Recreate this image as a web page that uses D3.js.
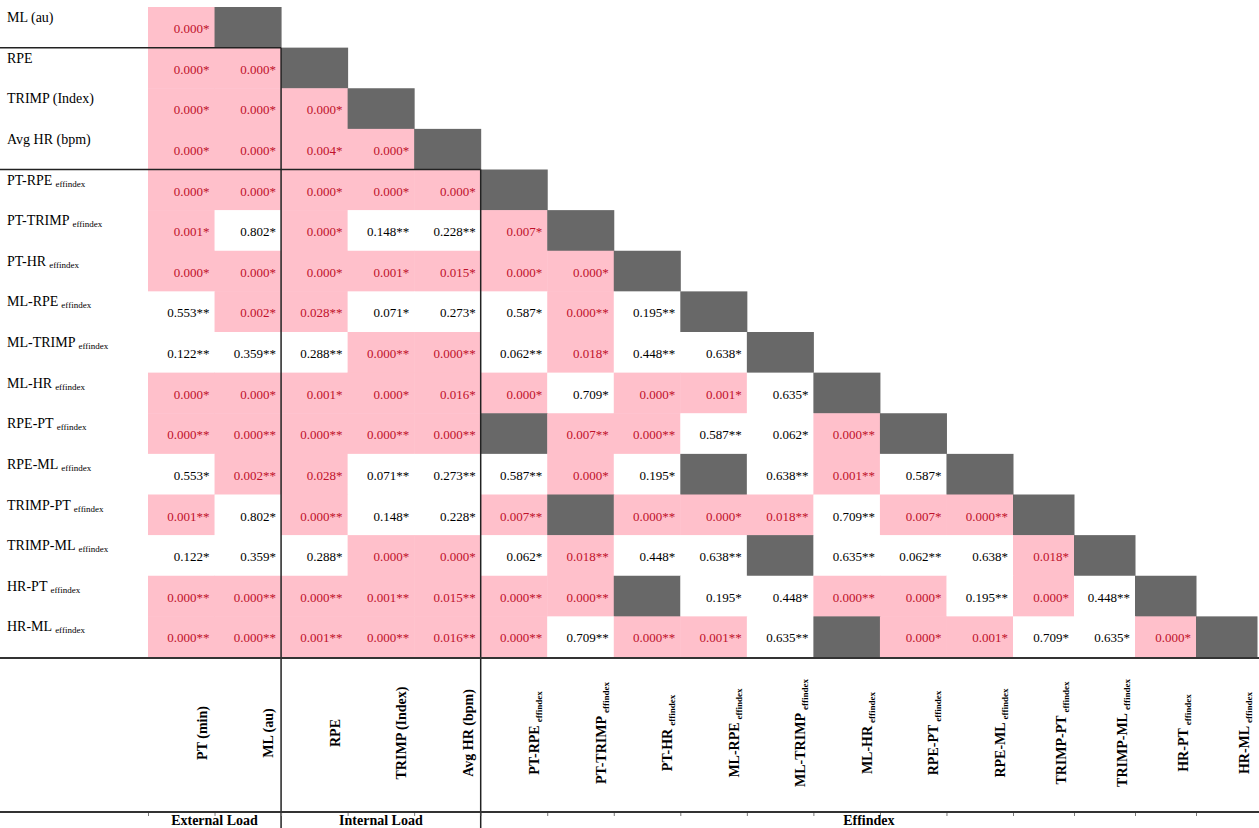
<!DOCTYPE html>
<html>
<head>
<meta charset="utf-8">
<script src="https://cdn.jsdelivr.net/npm/d3@7"></script>
<style>
body { margin: 0; background: #fff; }
text { font-family: "Liberation Serif", "Times New Roman", serif; }
</style>
</head>
<body>
<script>
// column / row variables
var colNames = ['PT (min)', 'ML (au)', 'RPE', 'TRIMP (Index)', 'Avg HR (bpm)',
    'PT-RPE', 'PT-TRIMP', 'PT-HR', 'ML-RPE', 'ML-TRIMP', 'ML-HR',
    'RPE-PT', 'RPE-ML', 'TRIMP-PT', 'TRIMP-ML', 'HR-PT', 'HR-ML']
var rowNames = colNames.slice(1)
var subLabel = 'effindex'
var groupNames = ['External Load', 'Internal Load', 'Effindex']
var groupStart = [0, 2, 5]

// p values per row (null = shaded cell), and number of asterisks
var pValues = [
    [0.000],
    [0.000, 0.000],
    [0.000, 0.000, 0.000],
    [0.000, 0.000, 0.004, 0.000],
    [0.000, 0.000, 0.000, 0.000, 0.000],
    [0.001, 0.802, 0.000, 0.148, 0.228, 0.007],
    [0.000, 0.000, 0.000, 0.001, 0.015, 0.000, 0.000],
    [0.553, 0.002, 0.028, 0.071, 0.273, 0.587, 0.000, 0.195],
    [0.122, 0.359, 0.288, 0.000, 0.000, 0.062, 0.018, 0.448, 0.638],
    [0.000, 0.000, 0.001, 0.000, 0.016, 0.000, 0.709, 0.000, 0.001, 0.635],
    [0.000, 0.000, 0.000, 0.000, 0.000, null, 0.007, 0.000, 0.587, 0.062, 0.000],
    [0.553, 0.002, 0.028, 0.071, 0.273, 0.587, 0.000, 0.195, null, 0.638, 0.001, 0.587],
    [0.001, 0.802, 0.000, 0.148, 0.228, 0.007, null, 0.000, 0.000, 0.018, 0.709, 0.007, 0.000],
    [0.122, 0.359, 0.288, 0.000, 0.000, 0.062, 0.018, 0.448, 0.638, null, 0.635, 0.062, 0.638, 0.018],
    [0.000, 0.000, 0.000, 0.001, 0.015, 0.000, 0.000, null, 0.195, 0.448, 0.000, 0.000, 0.195, 0.000, 0.448],
    [0.000, 0.000, 0.001, 0.000, 0.016, 0.000, 0.709, 0.000, 0.001, 0.635, null, 0.000, 0.001, 0.709, 0.635, 0.000]
]
var stars = [
    [1],
    [1, 1],
    [1, 1, 1],
    [1, 1, 1, 1],
    [1, 1, 1, 1, 1],
    [1, 1, 1, 2, 2, 1],
    [1, 1, 1, 1, 1, 1, 1],
    [2, 1, 2, 1, 1, 1, 2, 2],
    [2, 2, 2, 2, 2, 2, 1, 2, 1],
    [1, 1, 1, 1, 1, 1, 1, 1, 1, 1],
    [2, 2, 2, 2, 2, 0, 2, 2, 2, 1, 2],
    [1, 2, 1, 2, 2, 2, 1, 1, 0, 2, 2, 1],
    [2, 1, 2, 1, 1, 2, 0, 2, 1, 2, 2, 1, 2],
    [1, 1, 1, 1, 1, 1, 2, 1, 2, 0, 2, 2, 1, 1],
    [2, 2, 2, 2, 2, 2, 2, 0, 1, 1, 2, 1, 2, 1, 2],
    [2, 2, 2, 2, 2, 2, 2, 2, 2, 2, 0, 1, 1, 1, 1, 1]
]

var width = 1259
var height = 828
var pink = '#ffc0cb'
var red = '#c0102a'
var grey = '#686868'
var lineColor = '#222'

var svg = d3.select('body').append('svg').attr('width', width).attr('height', height)

// column edges: the last four columns are a bit narrower in the original table
var colX = d3.scaleLinear().domain([0, 13, 17]).range([148, 1013, 1257])
var rowY = d3.scaleBand().domain(rowNames).range([7, 657])
var colW = i => colX(i + 1) - colX(i)
var fmt = d3.format('.3f')

// flatten into cells
var cells = []
pValues.forEach((row, r) => {
    row.forEach((p, c) => cells.push({ r: r, c: c, p: p, s: stars[r][c] }))
    cells.push({ r: r, c: r + 1, p: null, s: 0 }) // diagonal
})

var g = svg.append('g')
g.selectAll('rect').data(cells).enter().append('rect')
    .attr('x', d => colX(d.c))
    .attr('y', d => rowY(rowNames[d.r]))
    .attr('width', d => colW(d.c) + 0.5)
    .attr('height', rowY.bandwidth() + 0.5)
    .attr('fill', d => d.p === null ? grey : (d.p < 0.05 ? pink : '#fff'))

g.selectAll('text.val').data(cells.filter(d => d.p !== null)).enter().append('text')
    .attr('class', 'val')
    .attr('x', d => colX(d.c + 1) - 5)
    .attr('y', d => rowY(rowNames[d.r]) + 26)
    .attr('text-anchor', 'end')
    .attr('font-size', 13)
    .attr('fill', d => d.p < 0.05 ? red : '#000')
    .text(d => fmt(d.p) + '*'.repeat(d.s))

var hasSub = name => colNames.indexOf(name) >= groupStart[2]

// row labels
var rowLab = svg.append('g').selectAll('text').data(rowNames).enter().append('text')
    .attr('x', 7)
    .attr('y', d => rowY(d) + 15)
    .attr('font-size', 14)
    .attr('fill', '#000')
rowLab.append('tspan').text(d => d)
rowLab.filter(hasSub).append('tspan')
    .attr('dx', 3).attr('dy', 2).attr('font-size', 9).text(subLabel)

// column labels (rotated)
var colLab = svg.append('g').selectAll('text').data(colNames).enter().append('text')
    .attr('transform', (d, i) => `translate(${colX(i + 1) - 8},733) rotate(-90)`)
    .attr('text-anchor', 'middle')
    .attr('font-size', 14)
    .attr('font-weight', 'bold')
    .attr('fill', '#000')
colLab.append('tspan').text(d => d)
colLab.filter(hasSub).append('tspan')
    .attr('dx', 3).attr('dy', 3).attr('font-size', 9).text(subLabel)

// group separators
var lines = svg.append('g').attr('stroke', lineColor).attr('stroke-width', 1.5)
groupStart.slice(1).forEach(c => {
    var top = rowY(rowNames[c - 1])
    lines.append('line').attr('x1', 0).attr('x2', colX(c)).attr('y1', top).attr('y2', top)
    lines.append('line').attr('x1', colX(c)).attr('x2', colX(c)).attr('y1', top).attr('y2', height)
})
var bottom = rowY.range()[1] + 1
lines.append('line').attr('x1', 0).attr('x2', width).attr('y1', bottom).attr('y2', bottom)
    .attr('stroke', '#333').attr('stroke-width', 2)
lines.append('line').attr('x1', 0).attr('x2', width).attr('y1', 812).attr('y2', 812)
    .attr('stroke', '#333').attr('stroke-width', 2)

// tiny ticks under the group line at column edges
var tickAxis = d3.axisBottom(colX).tickValues(d3.range(0, 17)).tickSize(3).tickFormat('')
svg.append('g').attr('transform', 'translate(0,813)').call(tickAxis)
    .call(a => a.select('.domain').remove())
    .call(a => a.selectAll('line').attr('stroke', '#777'))

// group labels
svg.append('g').selectAll('text').data(groupNames).enter().append('text')
    .attr('x', (d, i) => (colX(groupStart[i]) + colX(i < 2 ? groupStart[i + 1] : 17)) / 2)
    .attr('y', 825)
    .attr('text-anchor', 'middle')
    .attr('font-size', 14)
    .attr('font-weight', 'bold')
    .attr('fill', '#000')
    .text(d => d)
</script>
</body>
</html>
